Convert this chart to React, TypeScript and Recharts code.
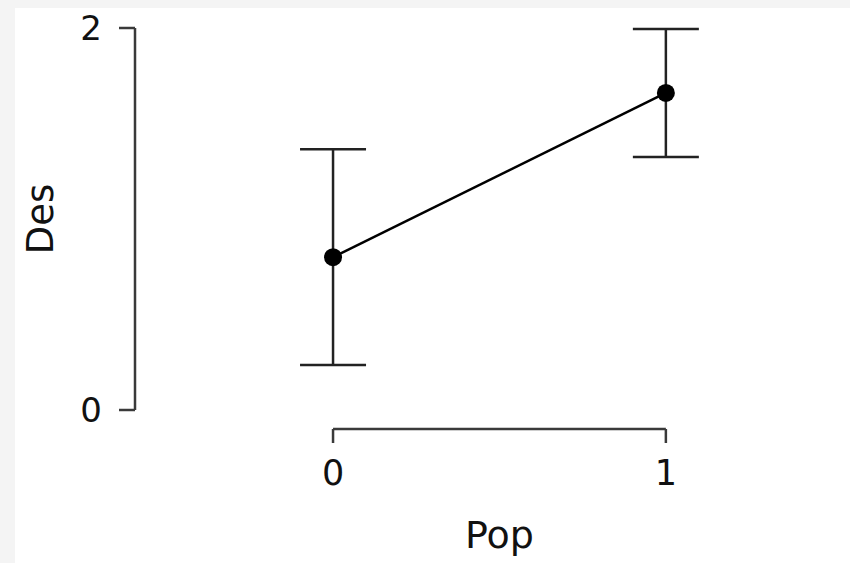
import React from "react";
import {
  ComposedChart,
  Line,
  XAxis,
  YAxis,
  ErrorBar,
  ReferenceLine,
  Label,
} from "recharts";

// Pop groups, mean Des with +/- error
const popGroups = [0, 1];
const desMeans = [0.8, 1.66];
const desErrors = [0.565, 0.335];
const xTicks = [0, 1];
const yTicks = [0, 2];

const data = popGroups.map((p, i) => ({
  pop: p,
  des: desMeans[i],
  err: desErrors[i],
}));

const FONT = "'DejaVu Sans', sans-serif";
const AXIS_COLOR = "#3a3a3a";

function XTick(props: any) {
  const { x, y, payload } = props;
  return (
    <g>
      <line x1={x} y1={y + 19} x2={x} y2={y + 33} stroke={AXIS_COLOR} strokeWidth={2.5} />
      <text x={x} y={y + 75} textAnchor="middle" fontSize={35} fill="#111" fontFamily={FONT}>
        {payload.value}
      </text>
    </g>
  );
}

function YLabel(props: any) {
  const { viewBox } = props;
  const cx = 40;
  const cy = viewBox.y + viewBox.height / 2;
  return (
    <text
      x={cx}
      y={cy}
      transform={`rotate(-90, ${cx}, ${cy})`}
      textAnchor="middle"
      dominantBaseline="central"
      fontSize={37}
      fill="#111"
      fontFamily={FONT}
    >
      Des
    </text>
  );
}

export default function App() {
  return (
    <div
      style={{
        position: "fixed",
        top: 0,
        left: 0,
        width: 850,
        height: 563,
        background: "#f4f4f4",
      }}
    >
      <div
        style={{
          position: "absolute",
          left: 15,
          top: 8,
          width: 835,
          height: 555,
          background: "#fff",
        }}
      />
      <div style={{ position: "absolute", left: 0, top: 0 }}>
        <ComposedChart
          width={850}
          height={563}
          data={data}
          margin={{ top: 28, right: 51, bottom: 53, left: 0 }}
          style={{ fontFamily: FONT }}
        >
          <XAxis
            dataKey="pop"
            type="number"
            domain={[-0.595, 1.4]}
            ticks={xTicks}
            axisLine={false}
            tickLine={false}
            tickSize={0}
            tickMargin={0}
            tick={(p: any) => <XTick {...p} />}
            height={100}
          />
          <YAxis
            type="number"
            domain={[0, 2]}
            ticks={yTicks}
            width={135}
            tickSize={16}
            tickMargin={17}
            axisLine={{ stroke: AXIS_COLOR, strokeWidth: 2.5 }}
            tickLine={{ stroke: AXIS_COLOR, strokeWidth: 2.5 }}
            tick={{ fontSize: 34, fill: "#111", fontFamily: FONT }}
          >
            <Label content={(p: any) => <YLabel {...p} />} />
          </YAxis>
          <ReferenceLine
            segment={[
              { x: 0, y: -0.1 },
              { x: 1, y: -0.1 },
            ]}
            stroke={AXIS_COLOR}
            strokeWidth={2.5}
            ifOverflow="visible"
            label={{
              value: "Pop",
              position: "bottom",
              offset: 92,
              fontSize: 38,
              fill: "#111",
              fontFamily: FONT,
            }}
          />
          <Line
            dataKey="des"
            stroke="#000"
            strokeWidth={2.5}
            dot={{ r: 9, fill: "#000", stroke: "none" }}
            activeDot={false}
            isAnimationActive={false}
          >
            <ErrorBar
              dataKey="err"
              direction="y"
              width={33}
              stroke="#222"
              strokeWidth={2.5}
              isAnimationActive={false}
            />
          </Line>
        </ComposedChart>
      </div>
    </div>
  );
}
